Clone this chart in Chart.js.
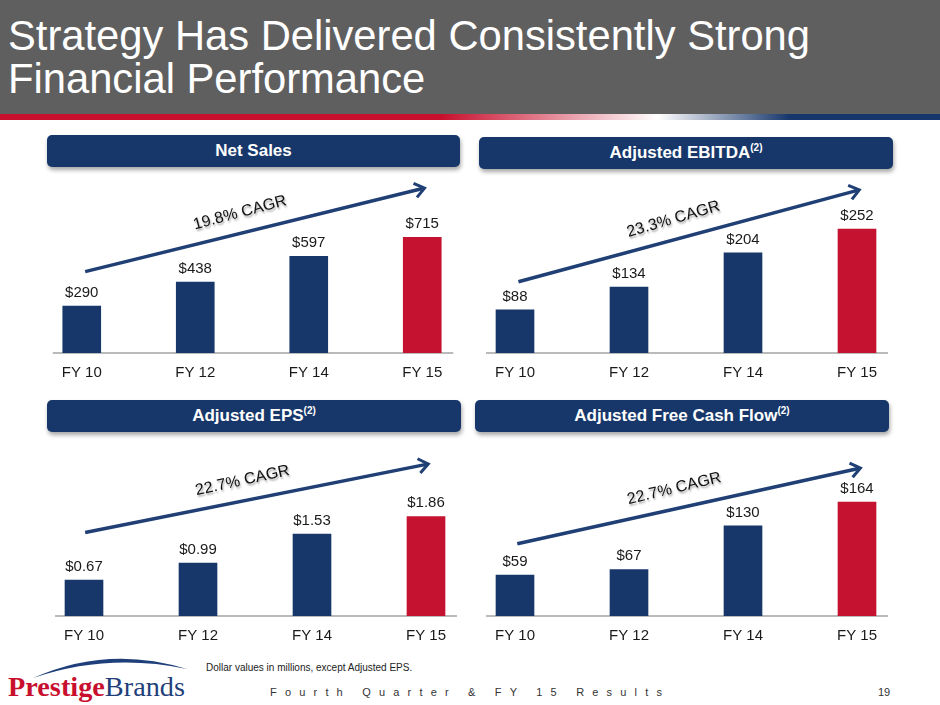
<!DOCTYPE html>
<html>
<head>
<meta charset="utf-8">
<script src="https://cdn.jsdelivr.net/npm/chart.js@4.4.1/dist/chart.umd.min.js"></script>
<style>
  body { margin: 0; width: 940px; height: 705px; position: relative; overflow: hidden; background: #fff;
         font-family: "Liberation Sans", Arial, Helvetica, sans-serif; }
  #header { position: absolute; left: 0; top: 0; width: 940px; height: 115px; background: #5f5f5f; }
  #stripe { position: absolute; left: 0; top: 114px; width: 940px; height: 6px;
            background: linear-gradient(to right, #c8102e 0%, #c8102e 47%, #ffffff 70%, #17366b 84%, #17366b 100%); }
  #title { position: absolute; left: 8px; top: 14px; color: #fff; font-size: 42px; line-height: 43px;
           white-space: nowrap; transform-origin: 0 0; }
  .pill { position: absolute; height: 32px; background: #17376b; border-radius: 5px; color: #fff;
          font-weight: bold; font-size: 17px; line-height: 32px; text-align: center;
          box-shadow: 1px 3px 4px rgba(0,0,0,0.35); }
  .pill sup { font-size: 10px; line-height: 0; vertical-align: 7px; }
  .box { position: absolute; }
  #note { position: absolute; left: 206px; top: 662px; font-size: 10px; color: #222; white-space: nowrap; }
  #results { position: absolute; left: 270px; top: 686px; font-size: 11px; color: #333; white-space: pre; }
  #page { position: absolute; left: 878px; top: 686px; font-size: 11px; color: #333; }
  #logo { position: absolute; left: 8px; top: 673px; font-family: "Liberation Serif", "Times New Roman", serif;
          font-size: 28px; line-height: 28px; white-space: nowrap; transform-origin: 0 0; }
  #logo .p { color: #c8102e; font-weight: bold; }
  #logo .b { color: #1f3f7a; }
  #swoosh { position: absolute; left: 0; top: 652px; }
</style>
</head>
<body>
<div id="header"></div>
<div id="stripe"></div>
<div id="title">Strategy Has Delivered Consistently Strong<br>Financial Performance</div>

<div class="pill" style="left:47px; top:135px; width:413px;">Net Sales</div>
<div class="pill" style="left:479px; top:137px; width:414px;">Adjusted EBITDA<sup>(2)</sup></div>
<div class="pill" style="left:47px; top:400px; width:414px;">Adjusted EPS<sup>(2)</sup></div>
<div class="pill" style="left:475px; top:400px; width:414px;">Adjusted Free Cash Flow<sup>(2)</sup></div>

<div class="box" style="left:25px; top:165px;"><canvas id="c1" width="454" height="220"></canvas></div>
<div class="box" style="left:458px; top:165px;"><canvas id="c2" width="456" height="220"></canvas></div>
<div class="box" style="left:27px; top:426px;"><canvas id="c3" width="456" height="222"></canvas></div>
<div class="box" style="left:458px; top:426px;"><canvas id="c4" width="456" height="222"></canvas></div>

<svg id="swoosh" width="200" height="30">
  <path d="M33,26 Q108,-7.5 187,17 Q108,0.5 33,26 Z" fill="#1f3f7a"/>
</svg>
<div id="logo"><span class="p">Prestige</span><span class="b">Brands</span></div>
<div id="note">Dollar values in millions, except Adjusted EPS.</div>
<div id="results">Fourth Quarter &amp; FY 15 Results</div>
<div id="page">19</div>

<script>
// data
const categories = ['FY 10', 'FY 12', 'FY 14', 'FY 15'];
const netSales = [290, 438, 597, 715];
const adjEbitda = [88, 134, 204, 252];
const adjEps = [0.67, 0.99, 1.53, 1.86];
const adjFcf = [59, 67, 130, 164];
const cagrLabels = ['19.8% CAGR', '23.3% CAGR', '22.7% CAGR', '22.7% CAGR'];
// arrow start / end, in data units [category index, value]
const netSalesArrow = [[0.03, 503], [3.02, 1019]];
const ebitdaArrow = [[0.03, 145], [3.02, 332]];
const epsArrow = [[0.01, 1.56], [3.02, 2.84]];
const fcfArrow = [[0.02, 104], [3.03, 213]];

const NAVY = '#17376b';
const RED = '#c41230';
const ARROW = '#1f3f75';

// squeeze title / logo / footer to the widths in the slide
function fitWidth(el, w) {
  const r = el.getBoundingClientRect();
  el.style.transform = 'scaleX(' + (w / r.width) + ')';
}
fitWidth(document.getElementById('title'), 802);
fitWidth(document.getElementById('logo'), 177);
const res = document.getElementById('results');
const n = res.textContent.length;
res.style.letterSpacing = ((392 - res.getBoundingClientRect().width) / (n - 1)) + 'px';

const overlay = {
  id: 'overlay',
  beforeDatasetsDraw(chart) {
    // base line, a little wider than the bars
    const bars = chart.getDatasetMeta(0).data;
    const ctx = chart.ctx, yb = chart.chartArea.bottom;
    ctx.save();
    ctx.strokeStyle = '#a3a3a3';
    ctx.lineWidth = 1.5;
    ctx.beginPath();
    ctx.moveTo(bars[0].x - 29, yb);
    ctx.lineTo(bars[bars.length - 1].x + 31, yb);
    ctx.stroke();
    ctx.restore();
  },
  afterDatasetsDraw(chart, args, opts) {
    const ctx = chart.ctx, xs = chart.scales.x, ys = chart.scales.y;
    ctx.save();
    // value labels over bars
    ctx.font = '15px "Liberation Sans", Arial, sans-serif';
    ctx.fillStyle = '#1a1a1a';
    ctx.textAlign = 'center';
    ctx.textBaseline = 'alphabetic';
    chart.getDatasetMeta(0).data.forEach((bar, i) => {
      ctx.fillText(opts.fmt(chart.data.datasets[0].data[i]), bar.x, bar.y - 9);
    });
    // growth arrow
    const x0 = xs.getPixelForValue(opts.arrow[0][0]), y0 = ys.getPixelForValue(opts.arrow[0][1]);
    const x1 = xs.getPixelForValue(opts.arrow[1][0]), y1 = ys.getPixelForValue(opts.arrow[1][1]);
    const ang = Math.atan2(y1 - y0, x1 - x0);
    ctx.strokeStyle = ARROW;
    ctx.lineWidth = 3.5;
    ctx.beginPath(); ctx.moveTo(x0, y0); ctx.lineTo(x1 - 2 * Math.cos(ang), y1 - 2 * Math.sin(ang)); ctx.stroke();
    ctx.lineWidth = 3;
    ctx.beginPath();
    ctx.moveTo(x1 - 12 * Math.cos(ang - 0.65), y1 - 12 * Math.sin(ang - 0.65));
    ctx.lineTo(x1, y1);
    ctx.lineTo(x1 - 12 * Math.cos(ang + 0.65), y1 - 12 * Math.sin(ang + 0.65));
    ctx.stroke();
    // CAGR text along the arrow
    const t = 0.47;
    const px = x0 + (x1 - x0) * t + Math.sin(ang) * 20;
    const py = y0 + (y1 - y0) * t - Math.cos(ang) * 20;
    ctx.translate(px, py);
    ctx.rotate(ang - 0.02);
    ctx.font = '16px "Liberation Sans", Arial, sans-serif';
    ctx.textBaseline = 'middle';
    ctx.shadowColor = 'rgba(0,0,0,0.35)';
    ctx.shadowOffsetX = 1;
    ctx.shadowOffsetY = 2;
    ctx.shadowBlur = 2;
    ctx.fillStyle = '#111';
    ctx.fillText(opts.text, 0, 0);
    ctx.restore();
  }
};

function makeChart(id, values, yMax, arrow, text, fmt) {
  return new Chart(document.getElementById(id), {
    type: 'bar',
    data: {
      labels: categories,
      datasets: [{
        data: values,
        backgroundColor: ctx => ctx.dataIndex === values.length - 1 ? RED : NAVY,
        barThickness: 38
      }]
    },
    options: {
      responsive: false,
      animation: false,
      layout: { padding: { top: 15, left: 0, right: 0, bottom: 0 } },
      plugins: {
        legend: { display: false },
        tooltip: { enabled: false },
        overlay: { arrow: arrow, text: text, fmt: fmt }
      },
      scales: {
        x: {
          grid: { display: false },
          border: { display: false },
          ticks: {
            padding: 3,
            color: '#1a1a1a',
            font: { size: 15, family: '"Liberation Sans", Arial, sans-serif' }
          }
        },
        y: { display: false, min: 0, max: yMax }
      }
    },
    plugins: [overlay]
  });
}

const dollars = v => '$' + v;
makeChart('c1', netSales, 1069, netSalesArrow, cagrLabels[0], dollars);
makeChart('c2', adjEbitda, 352, ebitdaArrow, cagrLabels[1], dollars);
makeChart('c3', adjEps, 3.27, epsArrow, cagrLabels[2], v => '$' + v.toFixed(2));
makeChart('c4', adjFcf, 252, fcfArrow, cagrLabels[3], dollars);
</script>
</body>
</html>
